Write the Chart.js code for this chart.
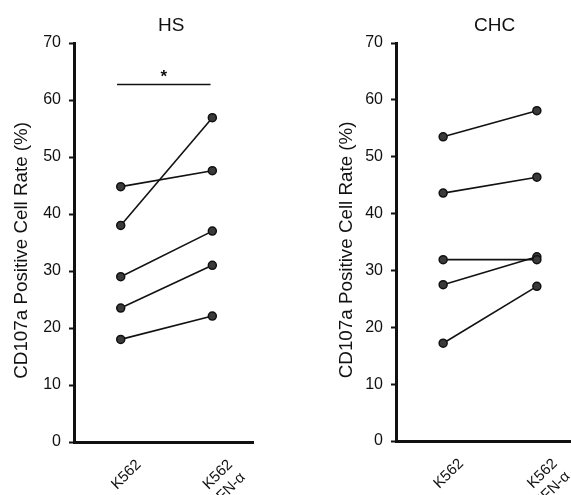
<!DOCTYPE html>
<html>
<head>
<meta charset="utf-8">
<script src="https://cdn.jsdelivr.net/npm/chart.js@4"></script>
<style>
  body { margin: 0; background: #fff; overflow: hidden; }
  #wrap { position: relative; width: 571px; height: 495px; overflow: hidden; }
  canvas { position: absolute; top: 0; }
</style>
</head>
<body>
<div id="wrap">
  <canvas id="hs" width="290" height="495" style="left:0"></canvas>
  <canvas id="chc" width="286" height="495" style="left:290px"></canvas>
</div>
<script>
// x categories (1 = K562, 2 = K562 + IFN-a)
const categories = ['K562', ['K562', 'IFN-α']];
const yTicks = [0, 10, 20, 30, 40, 50, 60, 70];
const yTitle = 'CD107a Positive Cell Rate (%)   ';

// HS group, one value per subject
const hsK562 = [44.8, 38.0, 29.0, 23.5, 18.0];
const hsIFN = [47.6, 56.9, 37.0, 31.0, 22.1];

// CHC group
const chcK562 = [53.5, 43.6, 31.9, 27.5, 17.2];
const chcIFN = [58.1, 46.4, 31.9, 32.4, 27.2];

// significance bar for HS
const hsSignif = { from: 0.96, to: 1.98, y: 62.7, text: '*' };

const FONT = 'Liberation Sans, Arial, sans-serif';
Chart.defaults.font.family = FONT;
Chart.defaults.color = '#111';

function pairs(before, after) {
  return before.map((v, i) => ({
    data: [{ x: 1, y: v }, { x: 2, y: after[i] }],
    borderColor: '#111',
    borderWidth: 1.6,
    pointRadius: 4,
    pointBackgroundColor: '#3a3a3a',
    pointBorderColor: '#111',
    pointBorderWidth: 1.5
  }));
}

const panelDecor = {
  id: 'panelDecor',
  afterDraw(chart) {
    const o = chart.options.plugins.panelDecor;
    const ctx = chart.ctx;
    const xs = chart.scales.x, ys = chart.scales.y;
    ctx.save();
    ctx.fillStyle = '#111';
    ctx.font = '19px ' + FONT;
    ctx.textAlign = 'center';
    ctx.textBaseline = 'alphabetic';
    ctx.fillText(o.title, xs.getPixelForValue(1.55), 31);
    if (o.signif) {
      const s = o.signif;
      const py = ys.getPixelForValue(s.y);
      ctx.strokeStyle = '#111';
      ctx.lineWidth = 1.5;
      ctx.beginPath();
      ctx.moveTo(xs.getPixelForValue(s.from), py);
      ctx.lineTo(xs.getPixelForValue(s.to), py);
      ctx.stroke();
      ctx.font = 'bold 17px ' + FONT;
      ctx.fillText(s.text, (xs.getPixelForValue(s.from) + xs.getPixelForValue(s.to)) / 2, py - 3);
    }
    ctx.restore();
  }
};

function makeChart(id, title, before, after, p) {
  return new Chart(document.getElementById(id), {
    type: 'line',
    data: { datasets: pairs(before, after) },
    plugins: [panelDecor],
    options: {
      responsive: false,
      animation: false,
      layout: { padding: { top: 43, left: 0, right: p.right, bottom: 0 } },
      plugins: {
        legend: { display: false },
        tooltip: { enabled: false },
        panelDecor: { title: title, signif: p.signif }
      },
      scales: {
        x: {
          type: 'linear',
          min: p.xMin,
          max: p.xMax,
          afterBuildTicks: s => { s.ticks = [{ value: 1 }, { value: 2 }]; },
          afterFit: s => { s.height = p.xHeight; s.paddingRight = 0; s.paddingLeft = 0; },
          grid: { display: false },
          border: { color: '#111', width: 3 },
          ticks: {
            callback: v => categories[v - 1],
            minRotation: 45,
            maxRotation: 45,
            labelOffset: 18,
            padding: 6,
            font: { size: 15 },
            color: '#111'
          }
        },
        y: {
          min: 0,
          max: 70,
          afterBuildTicks: s => { s.ticks = yTicks.map(v => ({ value: v })); },
          afterFit: s => { s.width = p.yWidth; },
          grid: { drawOnChartArea: false, drawTicks: true, tickLength: 5, tickWidth: 2, color: '#111' },
          border: { color: '#111', width: 3 },
          ticks: { padding: 8, font: { size: 16 }, color: '#111' },
          title: { display: true, text: yTitle, font: { size: 18.8 }, color: '#111', padding: { top: p.titlePad, bottom: 0 } }
        }
      }
    }
  });
}

makeChart('hs', 'HS', hsK562, hsIFN, {
  xMin: 0.49, xMax: 2.444, right: 37, xHeight: 53, yWidth: 74, titlePad: 11, signif: hsSignif
});
makeChart('chc', 'CHC', chcK562, chcIFN, {
  xMin: 0.497, xMax: 2.359, right: 0, xHeight: 54, yWidth: 106, titlePad: 46, signif: null
});
</script>
</body>
</html>
